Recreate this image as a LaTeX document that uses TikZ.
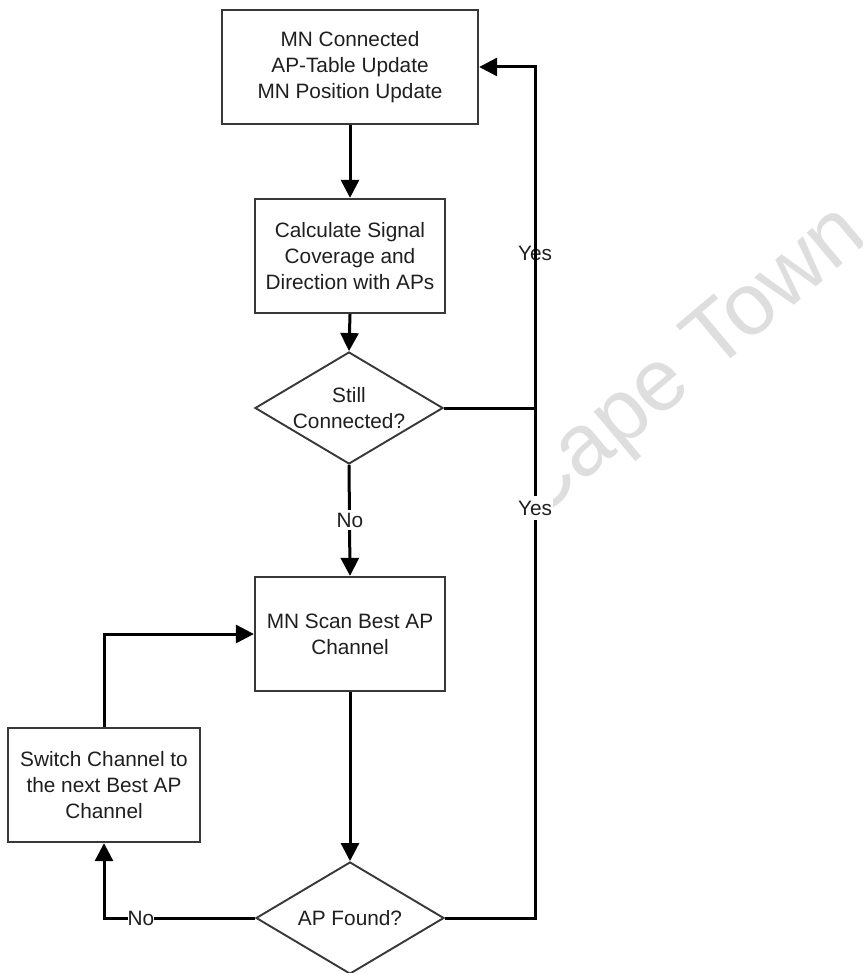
\documentclass[tikz,border=0pt]{standalone}
\usepackage{fontspec}
\setmainfont{Liberation Sans}
\usetikzlibrary{shapes.geometric,arrows.meta}

\begin{document}
\begin{tikzpicture}[x=1pt,y=-1pt,
  txt/.style={font=\fontsize{20.8}{25.8}\selectfont, text=black!88, align=center},
  procbox/.style={txt, draw=black!78, line width=2.3pt, fill=white,
    rectangle, inner sep=0pt, minimum height=114pt},
  decision/.style={txt, draw=black!78, line width=1.9pt, fill=white,
    diamond, shape aspect=1.68, inner sep=0pt,
    minimum width=188pt, minimum height=112pt},
  link/.style={draw=black, line width=3pt},
  arr/.style={link, -{Triangle[length=18pt,width=18pt]}},
  lbl/.style={txt, inner sep=1pt},
  wmtext/.style={font=\fontsize{88}{88}\selectfont, text=black!13}
]
% page
\fill[white] (0,0) rectangle (862,973);
\useasboundingbox (0,0) rectangle (862,973);

% faint watermark in the right margin
\begin{scope}
  \clip (553,0) rectangle (862,973);
  \node[wmtext, rotate=40] (wm) at (688,366) {Cape Town};
\end{scope}

% flowchart nodes
\node[procbox, minimum width=256pt] (conn) at (350,67)
  {MN Connected\\AP-Table Update\\MN Position Update};
\node[procbox, minimum width=190pt] (calc) at (350,256)
  {Calculate Signal\\Coverage and\\Direction with APs};
\node[decision] (still) at (349,408) {Still\\Connected?};
\node[procbox, minimum width=190pt] (scan) at (350,634)
  {MN Scan Best AP\\Channel};
\node[decision] (found) at (350,918) {AP Found?};
\node[procbox, minimum width=192pt] (switch) at (104,785)
  {Switch Channel to\\the next Best AP\\Channel};

% rail on the right, carrying both "Yes" branches back to the top
\coordinate (railx) at (535,0);
\node[lbl] (yes1) at (535,253) {Yes};

% main sequence
\draw[arr] (conn.south) -- (calc.north);
\draw[arr] (calc.south) -- (still.north);
\draw[arr] (still.south) -- (scan.north);
\node[lbl, fill=white, inner ysep=3pt] (no1) at (350,520) {No};
\draw[arr] (scan.south) -- (found.north);

% "Yes" returns
\draw[arr] (found.east) -- (found.east -| railx) |- (conn.east);
\draw[link] (still.east) -- (still.east -| railx);
\node[lbl, fill=white, inner ysep=5pt] (yes2) at (535,508) {Yes};

% "No" retry loop
\draw[arr] (found.west) -| (switch.south);
\node[lbl, fill=white, inner xsep=0pt] (no2) at (141,918) {No};
\draw[arr] (switch.north) |- (scan.west);
\end{tikzpicture}
\end{document}
